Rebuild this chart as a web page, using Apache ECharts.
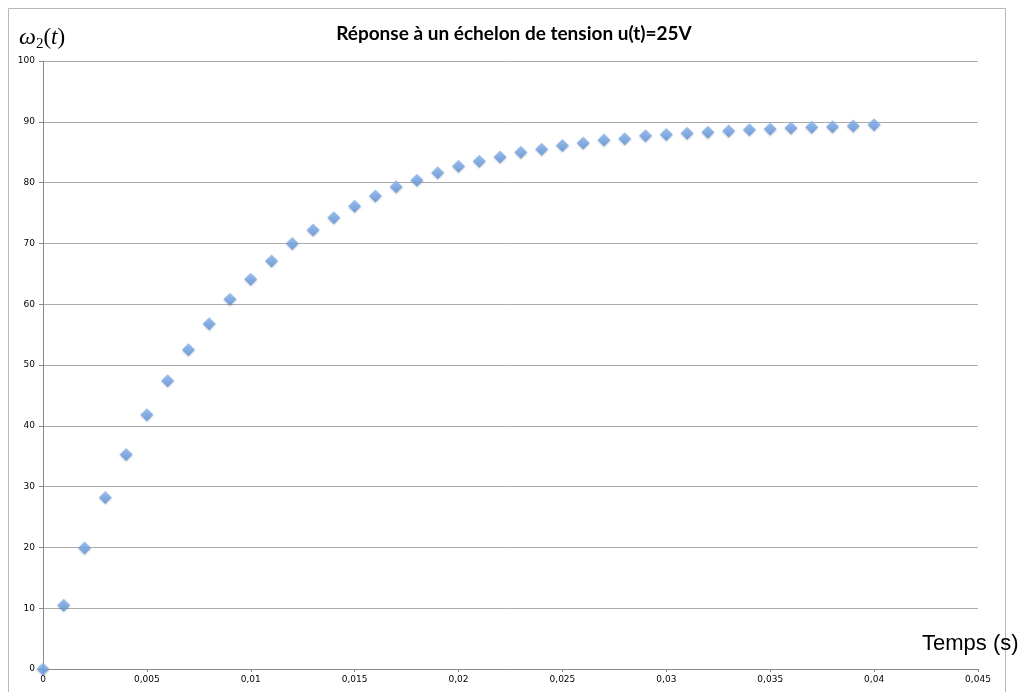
<!DOCTYPE html>
<html><head><meta charset="utf-8">
<script src="https://cdn.jsdelivr.net/npm/echarts@6/dist/echarts.min.js"></script>
<style>html,body{margin:0;padding:0;background:#fff}#c{width:1021px;height:692px}</style>
</head><body><div id="c"></div>
<script>
const titleText = 'Réponse à un échelon de tension u(t)=25V';
const xAxisName = 'Temps (s)';
const times = [0,0.001,0.002,0.003,0.004,0.005,0.006,0.007,0.008,0.009,0.01,0.011,0.012,0.013,0.014,0.015,0.016,0.017,0.018,0.019,0.02,0.021,0.022,0.023,0.024,0.025,0.026,0.027,0.028,0.029,0.03,0.031,0.032,0.033,0.034,0.035,0.036,0.037,0.038,0.039,0.04];
const omega = [0,10.5,19.9,28.2,35.3,41.8,47.4,52.5,56.8,60.8,64.1,67.1,70.0,72.2,74.2,76.1,77.8,79.3,80.4,81.6,82.7,83.5,84.2,85.0,85.5,86.1,86.5,87.0,87.2,87.7,87.9,88.1,88.3,88.5,88.7,88.8,89.0,89.1,89.2,89.3,89.5];

const chart = echarts.init(document.getElementById('c'));
chart.setOption({
  animation: false,
  backgroundColor: '#fff',
  title: {
    text: titleText, left: 509, top: 19, textAlign: 'center',
    textStyle: {fontFamily: 'Lato', fontWeight: 'bold', fontSize: 19, color: '#000'}
  },
  graphic: [
    {type: 'rect', shape: {x: 8.5, y: 8.5, width: 997, height: 700}, style: {fill: 'none', stroke: '#b8b8b8', lineWidth: 1}, silent: true, z: -1},
    {type: 'text', left: 19, top: 26, style: {
      rich: {
        w: {fontFamily: 'Liberation Serif', fontStyle: 'italic', fontSize: 24, fill: '#000'},
        s: {fontFamily: 'Liberation Serif', fontSize: 15, fill: '#000', verticalAlign: 'bottom', padding: [12,0,0,0]},
        p: {fontFamily: 'Liberation Serif', fontSize: 23, fill: '#000'},
        t: {fontFamily: 'Liberation Serif', fontStyle: 'italic', fontSize: 23, fill: '#000'}
      },
      text: '{w|ω}{s|2}{p|(}{t|t}{p|)}'
    }},
    {type: 'text', left: 922, top: 633, style: {text: xAxisName, fontFamily: 'Liberation Sans', fontSize: 22, fill: '#000'}}
  ],
  grid: {left: 43, right: 43, top: 61, bottom: 23},
  xAxis: {
    type: 'value', min: 0, max: 0.045, interval: 0.005,
    axisLine: {show: true, lineStyle: {color: '#8a8a8a'}},
    axisTick: {show: true, length: 3, lineStyle: {color: '#8a8a8a'}},
    splitLine: {show: false},
    axisLabel: {fontFamily: 'DejaVu Sans', fontSize: 9, color: '#000', margin: 6,
      formatter: v => String(parseFloat(v.toFixed(4))).replace('.', ',')}
  },
  yAxis: {
    type: 'value', min: 0, max: 100, interval: 10,
    axisLine: {show: true, lineStyle: {color: '#8a8a8a'}},
    axisTick: {show: true, length: 4, lineStyle: {color: '#8a8a8a'}},
    splitLine: {show: true, lineStyle: {color: '#ababab', width: 1}},
    axisLabel: {fontFamily: 'DejaVu Sans', fontSize: 9, color: '#000', margin: 8}
  },
  series: [{
    type: 'scatter',
    data: times.map((t, i) => [t, omega[i]]),
    symbol: 'diamond', symbolSize: 13,
    itemStyle: {
      color: {type: 'linear', x: 0, y: 0, x2: 0, y2: 1, colorStops: [{offset: 0, color: '#8ab8f0'}, {offset: 1, color: '#5a90da'}]},
      shadowColor: 'rgba(0,0,0,0.25)', shadowBlur: 2, shadowOffsetY: 1
    }
  }]
});
</script></body></html>
